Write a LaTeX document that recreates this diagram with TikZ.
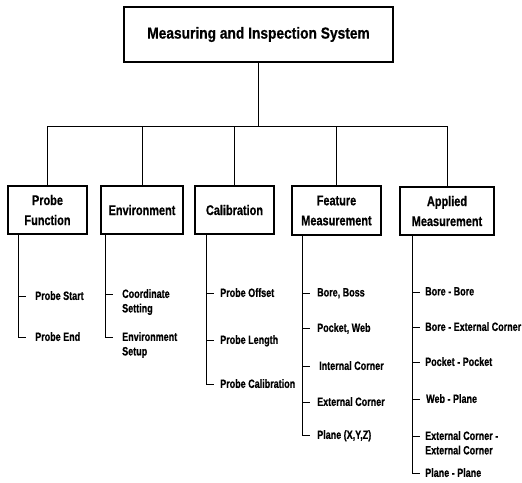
\documentclass[tikz,border=0pt]{standalone}
\usepackage{fontspec}
\setmainfont{Liberation Sans}
\newfontfamily\titlefont[FakeStretch=0.86,FakeBold=0.6]{Liberation Sans}
\newfontfamily\headfont[FakeStretch=0.78,FakeBold=0.6]{Liberation Sans}
\newfontfamily\leaffont[FakeStretch=0.75,FakeBold=0.6]{Liberation Sans}
\usetikzlibrary{calc}

\begin{document}
\begin{tikzpicture}[x=1pt,y=-1pt,
  box/.style={draw, line width=1.2pt, inner sep=0pt, align=center,
    font=\headfont\bfseries\fontsize{14}{20}\selectfont},
  leaf/.style={anchor=north west, inner sep=0pt, align=left,
    font=\leaffont\bfseries\fontsize{12}{14.5}\selectfont},
  link/.style={line width=0.9pt},
]
\useasboundingbox (0,0) rectangle (522,482);

% root of the hierarchy
\node[box, minimum width=269pt, minimum height=55pt,
  font=\titlefont\bfseries\fontsize{16}{18}\selectfont]
  (top) at (258.5,34.5) {Measuring and Inspection System};

% second level
\node[box, minimum width=79pt, minimum height=48pt] (pf)  at (47.5,210)  {Probe\\Function};
\node[box, minimum width=82pt, minimum height=48pt] (env) at (142,210)   {Environment};
\node[box, minimum width=79pt, minimum height=48pt] (cal) at (234.5,210) {Calibration};
\node[box, minimum width=89pt, minimum height=49pt] (fm)  at (336.5,210.5) {Feature\\Measurement};
\node[box, minimum width=94pt, minimum height=48pt] (am)  at (447,211)   {Applied\\Measurement};

% bus between root and second level
\path (top.south) ++(0,64) coordinate (bus);
\draw[link] (top.south) -- (bus);
\draw[link] (pf.north) |- (bus) -| (am.north);
\foreach \n in {env,cal,fm}
  \draw[link] (\n.north) -- (\n.north |- bus);

% spines below each box
\coordinate (pfs)  at ([xshift=11pt]pf.south west);
\coordinate (envs) at ([xshift=5pt]env.south west);
\coordinate (cals) at ([xshift=12pt]cal.south west);
\coordinate (fms)  at ([xshift=11pt]fm.south west);
\coordinate (ams)  at ([xshift=13pt]am.south west);

% leaves
\node[leaf] (p1) at (35,291)  {Probe Start};
\node[leaf] (p2) at (35,332)  {Probe End};

\node[leaf] (e1) at (122,289) {Coordinate\\Setting};
\node[leaf] (e2) at (122,332) {Environment\\Setup};

\node[leaf] (c1) at (220,288) {Probe Offset};
\node[leaf] (c2) at (220,335) {Probe Length};
\node[leaf] (c3) at (220,379) {Probe Calibration};

\node[leaf] (f1) at (317,288) {Bore, Boss};
\node[leaf] (f2) at (317,323) {Pocket, Web};
\node[leaf] (f3) at (319,361) {Internal Corner};
\node[leaf] (f4) at (317,397) {External Corner};
\node[leaf] (f5) at (317,430) {Plane (X,Y,Z)};

\node[leaf] (a1) at (425,287) {Bore - Bore};
\node[leaf] (a2) at (425,322) {Bore - External Corner};
\node[leaf] (a3) at (425,357) {Pocket - Pocket};
\node[leaf] (a4) at (426,394) {Web - Plane};
\node[leaf] (a5) at (425,431) {External Corner -\\External Corner};
\node[leaf] (a6) at (425,468) {Plane - Plane};

% short ticks from a spine to its leaves
\foreach \s/\l in {pfs/p1, envs/e1, cals/c1, cals/c2,
                   fms/f1, fms/f2, fms/f3, fms/f4,
                   ams/a1, ams/a2, ams/a3, ams/a4, ams/a5}
  \draw[link] (\s |- \l.north west) ++(0,5) -- ++(8,0);

% each spine ends in a corner at its last leaf
\foreach \s/\l in {pfs/p2, envs/e2, cals/c3, fms/f5, ams/a6}
  \draw[link] (\s) |- ($(\s |- \l.north west)+(8,5)$);
\end{tikzpicture}
\end{document}
